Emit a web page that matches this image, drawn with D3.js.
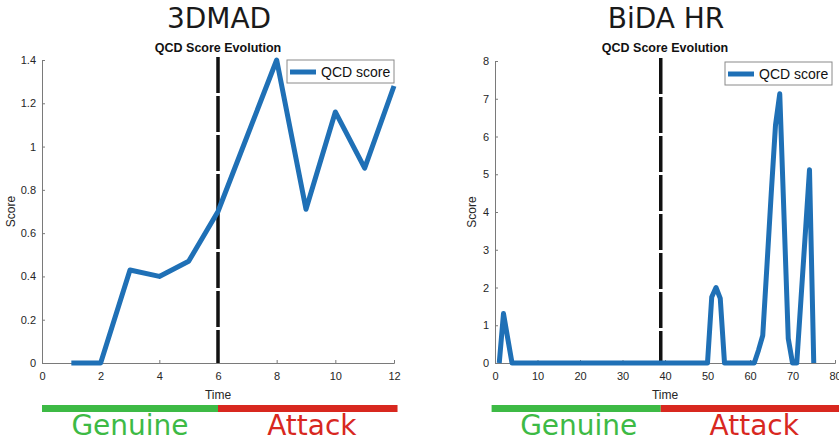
<!DOCTYPE html>
<html>
<head>
<meta charset="utf-8">
<script src="https://cdn.jsdelivr.net/npm/d3@7"></script>
<style>
  body { margin: 0; background: #fff; }
  svg { display: block; }
  .tick-label { font-family: "Liberation Sans", Arial, sans-serif; font-size: 11px; fill: #262626; }
  .axis-title { font-family: "Liberation Sans", Arial, sans-serif; font-size: 12px; fill: #262626; }
  .plot-title { font-family: "Liberation Sans", Arial, sans-serif; font-size: 12.5px; font-weight: bold; fill: #111; }
  .panel-title { font-family: "DejaVu Sans", sans-serif; font-size: 28px; fill: #1a1a1a; }
  .phase-label { font-family: "DejaVu Sans", sans-serif; font-size: 28px; }
  .legend-text { font-family: "Liberation Sans", Arial, sans-serif; font-size: 14px; fill: #111; }
</style>
</head>
<body>
<svg id="chart" width="839" height="442"></svg>
<script>
// 3DMAD panel
const madTime = [1, 2, 3, 4, 5, 6, 7, 8, 9, 10, 11, 12];
const madScore = [0, 0, 0.43, 0.40, 0.47, 0.70, 1.05, 1.40, 0.71, 1.16, 0.90, 1.28];
const madXTicks = [0, 2, 4, 6, 8, 10, 12];
const madYTicks = [0, 0.2, 0.4, 0.6, 0.8, 1, 1.2, 1.4];
const madAttackStart = 6;

// BiDA HR panel (time 1..75)
const bidaScore = [
    0, 1.31, 0.65, 0, 0, 0, 0, 0, 0, 0,
    0, 0, 0, 0, 0, 0, 0, 0, 0, 0,
    0, 0, 0, 0, 0, 0, 0, 0, 0, 0,
    0, 0, 0, 0, 0, 0, 0, 0, 0, 0,
    0, 0, 0, 0, 0, 0, 0, 0, 0, 0,
    1.75, 2.0, 1.71, 0, 0, 0, 0, 0, 0, 0,
    0, 0.34, 0.73, 2.6, 4.5, 6.3, 7.13, 3.9, 0.65, 0,
    0, 1.7, 3.4, 5.12, 0
];
const bidaTime = bidaScore.map((d, i) => i + 1);
const bidaXTicks = [0, 10, 20, 30, 40, 50, 60, 70, 80];
const bidaYTicks = [0, 1, 2, 3, 4, 5, 6, 7, 8];
const bidaAttackStart = 39;

const phaseNames = ['Genuine', 'Attack'];
const phaseColors = ['#3dba45', '#d8281f'];

const svg = d3.select('#chart');
const lineColor = '#1f70b6';

function drawPanel(cfg) {
    const x = d3.scaleLinear().domain(cfg.xDomain).range([cfg.left, cfg.right]);
    const y = d3.scaleLinear().domain(cfg.yDomain).range([cfg.bottom, cfg.top]);
    const g = svg.append('g');
    const cx = (cfg.left + cfg.right) / 2;

    // Big panel title
    g.append('text').attr('class', 'panel-title')
        .attr('x', cx + 1).attr('y', 28)
        .attr('text-anchor', 'middle').text(cfg.name);

    g.append('text').attr('class', 'plot-title')
        .attr('x', cx).attr('y', 52)
        .attr('text-anchor', 'middle').text('QCD Score Evolution');

    // Axes (MATLAB style, ticks inward)
    const xAxis = d3.axisBottom(x).tickValues(cfg.xTicks).tickSize(-3).tickPadding(9).tickFormat(d3.format('~g'));
    const yAxis = d3.axisLeft(y).tickValues(cfg.yTicks).tickSize(-3).tickPadding(6).tickFormat(d3.format('~g'));

    const gx = g.append('g').attr('transform', `translate(0,${cfg.bottom})`).call(xAxis);
    const gy = g.append('g').attr('transform', `translate(${cfg.left},0)`).call(yAxis);
    [gx, gy].forEach(a => {
        a.select('.domain').attr('stroke', '#7a7a7a').attr('stroke-width', 1);
        a.selectAll('.tick line').attr('stroke', '#7a7a7a');
        a.selectAll('.tick text').attr('class', 'tick-label').attr('fill', null);
        a.attr('font-family', null).attr('font-size', null);
    });
    gx.selectAll('.tick text').attr('dy', '0.71em');

    g.append('text').attr('class', 'axis-title')
        .attr('x', cx).attr('y', 399)
        .attr('text-anchor', 'middle').text('Time');

    g.append('text').attr('class', 'axis-title')
        .attr('transform', `translate(${cfg.left - cfg.yLabelOffset},${(cfg.top + cfg.bottom) / 2}) rotate(-90)`)
        .attr('text-anchor', 'middle').text('Score');

    // Attack onset
    g.append('line')
        .attr('x1', x(cfg.attackStart)).attr('x2', x(cfg.attackStart))
        .attr('y1', cfg.top - 3).attr('y2', cfg.bottom)
        .attr('stroke', '#111').attr('stroke-width', 3.5)
        .attr('stroke-dasharray', '36,3');

    // Score line
    const line = d3.line().x(d => x(d[0])).y(d => y(d[1]));
    g.append('path')
        .datum(cfg.time.map((t, i) => [t, cfg.score[i]]))
        .attr('fill', 'none')
        .attr('stroke', lineColor)
        .attr('stroke-width', 5)
        .attr('stroke-linejoin', 'round')
        .attr('d', line);

    // Legend
    const lg = g.append('g').attr('transform', `translate(${cfg.legendX},${cfg.legendY})`);
    lg.append('rect').attr('width', 107).attr('height', 23)
        .attr('fill', '#fff').attr('stroke', '#8a8a8a').attr('stroke-width', 1);
    lg.append('line').attr('x1', 3).attr('x2', 29).attr('y1', 12).attr('y2', 12)
        .attr('stroke', lineColor).attr('stroke-width', 5);
    lg.append('text').attr('class', 'legend-text')
        .attr('x', 34).attr('y', 17).text('QCD score');

    // Genuine / Attack bars
    const phases = [
        [cfg.phaseStart, cfg.attackStart],
        [cfg.attackStart, cfg.phaseEnd]
    ];
    phases.forEach((p, i) => {
        g.append('rect')
            .attr('x', x(p[0])).attr('y', 405)
            .attr('width', x(p[1]) - x(p[0])).attr('height', 7)
            .attr('fill', phaseColors[i]);
        g.append('text').attr('class', 'phase-label')
            .attr('x', x(cfg.phaseLabelAt[i])).attr('y', 435)
            .attr('text-anchor', 'middle')
            .attr('fill', phaseColors[i])
            .text(phaseNames[i]);
    });
}

drawPanel({
    name: '3DMAD',
    time: madTime, score: madScore,
    xDomain: [0, 12], yDomain: [0, 1.4],
    xTicks: madXTicks, yTicks: madYTicks,
    left: 42, right: 394, top: 60, bottom: 363,
    yLabelOffset: 27,
    attackStart: madAttackStart,
    phaseStart: 0, phaseEnd: 12.12,
    phaseLabelAt: [3, 9.2],
    legendX: 287, legendY: 60
});

drawPanel({
    name: 'BiDA HR',
    time: bidaTime, score: bidaScore,
    xDomain: [0, 80], yDomain: [0, 8],
    xTicks: bidaXTicks, yTicks: bidaYTicks,
    left: 495, right: 835, top: 61, bottom: 363,
    yLabelOffset: 19,
    attackStart: bidaAttackStart,
    phaseStart: -0.8, phaseEnd: 82,
    phaseLabelAt: [19.7, 61],
    legendX: 725, legendY: 62
});
</script>
</body>
</html>
